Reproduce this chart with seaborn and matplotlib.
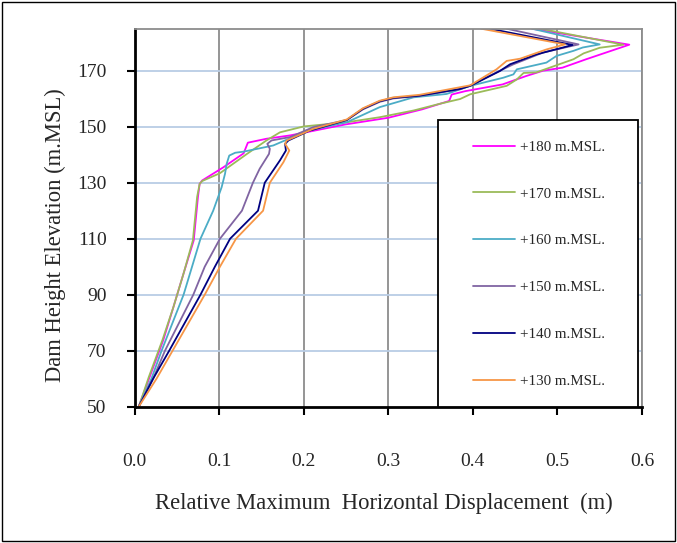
import matplotlib
matplotlib.use("Agg")
import matplotlib.pyplot as plt
import pandas as pd
import seaborn as sns
from matplotlib.patches import Rectangle

# ---- data ----
series_labels = ["+180 m.MSL.", "+170 m.MSL.", "+160 m.MSL.",
                 "+150 m.MSL.", "+140 m.MSL.", "+130 m.MSL."]
series_colors = ["#FF00FF", "#9BBB59", "#4BACC6", "#8064A2", "#000080", "#F79646"]

elev_180 = [50, 60.7, 73.8, 85.6, 97.6, 109.4, 124.9, 129.6, 130.8, 135.5, 140.5, 144.3,
            145.7, 146.9, 148.5, 150.8, 153.2, 156.2, 159.2, 161.5, 162.7, 165.1, 168.1,
            170.0, 171.1, 174.1, 179.3, 185]
disp_180 = [0.005, 0.018, 0.034, 0.046, 0.058, 0.070, 0.075, 0.077, 0.080, 0.105, 0.129, 0.134,
            0.156, 0.184, 0.211, 0.249, 0.300, 0.340, 0.372, 0.375, 0.391, 0.435, 0.463,
            0.483, 0.506, 0.534, 0.585, 0.470]

elev_170 = [50, 60.7, 73.8, 85.6, 97.6, 109.4, 124.9, 129.6, 130.6, 133.4, 140.3, 145.1,
            148.0, 150.1, 151.6, 153.4, 155.8, 158.2, 159.9, 161.6, 164.6, 166.9, 169.2,
            169.4, 174.1, 176.2, 178.2, 179.3, 185]
disp_170 = [0.005, 0.017, 0.033, 0.046, 0.058, 0.069, 0.074, 0.077, 0.080, 0.101, 0.133, 0.156,
            0.172, 0.200, 0.251, 0.290, 0.330, 0.361, 0.385, 0.397, 0.440, 0.452, 0.460,
            0.475, 0.519, 0.531, 0.550, 0.578, 0.480]

elev_160 = [50, 60, 70, 90, 100, 110, 120, 128.4, 133.2, 136.8, 139.7, 140.7, 141.1, 143.3,
            148.5, 151.6, 157.0, 160.5, 161.7, 164.6, 167.5, 168.7, 170.5, 172.9, 175.3,
            177.1, 178.3, 179.4, 185]
disp_160 = [0.005, 0.020, 0.032, 0.058, 0.068, 0.078, 0.093, 0.103, 0.107, 0.109, 0.112, 0.119,
            0.129, 0.164, 0.204, 0.251, 0.290, 0.330, 0.369, 0.397, 0.436, 0.448, 0.452,
            0.487, 0.499, 0.519, 0.530, 0.550, 0.470]

elev_150 = [50, 60, 70, 90, 100, 110, 120, 130, 135, 140.3, 142.1, 143.9, 145.1, 146.3, 149.8,
            152.4, 156.2, 158.9, 160.1, 161.0, 163.4, 164.7, 170.0, 172.3, 176.5, 179.4, 185]
disp_150 = [0.005, 0.022, 0.036, 0.0695, 0.083, 0.101, 0.127, 0.140, 0.148, 0.159, 0.160, 0.157,
            0.162, 0.184, 0.211, 0.251, 0.270, 0.290, 0.306, 0.337, 0.385, 0.397, 0.432,
            0.448, 0.483, 0.525, 0.440]

elev_140 = [50, 60, 70, 90, 100, 110, 120, 130, 138, 141.5, 143.9, 145.1, 148.6, 152.4, 156.4,
            159.1, 160.3, 161.1, 163.5, 164.6, 169.9, 172.3, 175.8, 179.2, 185]
disp_140 = [0.005, 0.022, 0.041, 0.078, 0.095, 0.113, 0.146, 0.154, 0.172, 0.179, 0.178, 0.182,
            0.207, 0.251, 0.270, 0.290, 0.306, 0.337, 0.385, 0.397, 0.432, 0.444, 0.475,
            0.518, 0.420]

elev_130 = [50, 60, 70, 90, 100, 110, 120, 130, 137.3, 141.5, 143.9, 145.1, 149.2, 152.6, 156.6,
            159.3, 160.5, 161.4, 164.8, 170.5, 173.5, 174.3, 177.6, 179.4, 185]
disp_130 = [0.005, 0.026, 0.045, 0.083, 0.101, 0.120, 0.152, 0.160, 0.176, 0.183, 0.178, 0.180,
            0.211, 0.251, 0.270, 0.290, 0.306, 0.337, 0.397, 0.428, 0.440, 0.456, 0.487,
            0.509, 0.410]

x_ticks = [0.0, 0.1, 0.2, 0.3, 0.4, 0.5, 0.6]
x_tick_labels = ["0.0", "0.1", "0.2", "0.3", "0.4", "0.5", "0.6"]
y_ticks = [50, 70, 90, 110, 130, 150, 170]

all_elev = [elev_180, elev_170, elev_160, elev_150, elev_140, elev_130]
all_disp = [disp_180, disp_170, disp_160, disp_150, disp_140, disp_130]

rows = []
for lab, ev, dv in zip(series_labels, all_elev, all_disp):
    for e, d in zip(ev, dv):
        rows.append({"series": lab, "elev": e, "disp": d})
df = pd.DataFrame(rows)

# ---- style ----
sns.set_style("white")
plt.rcParams["font.family"] = ["Liberation Serif", "DejaVu Serif"]

fig = plt.figure(figsize=(6.77, 5.43), dpi=100)
ax = fig.add_axes([0.1987, 0.2510, 0.7496, 0.6961])

sns.lineplot(data=df, x="disp", y="elev", hue="series", hue_order=series_labels,
             palette=dict(zip(series_labels, series_colors)), sort=False,
             estimator=None, linewidth=1.3, ax=ax)

ax.set_xlim(0, 0.6)
ax.set_ylim(50, 185)
ax.set_xticks(x_ticks)
ax.set_xticklabels(x_tick_labels)
ax.set_yticks(y_ticks)

ax.grid(False)
for xv in x_ticks[1:]:
    ax.axvline(xv, color="#8c8c8c", lw=1.3, zorder=0)
for yv in y_ticks[1:]:
    ax.axhline(yv, color="#b9cde5", lw=1.3, zorder=0)

for s in ["left", "bottom"]:
    ax.spines[s].set_color("black")
    ax.spines[s].set_linewidth(2.0)
for s in ["top", "right"]:
    ax.spines[s].set_color("#8c8c8c")
    ax.spines[s].set_linewidth(1.3)

ax.tick_params(axis="both", direction="out", length=6, width=1.5, color="black",
               labelsize=14)
ax.tick_params(axis="x", pad=27, bottom=True)
ax.tick_params(axis="y", pad=14, left=True)

ax.set_xlabel("Relative Maximum  Horizontal Displacement  (m)", fontsize=16.3)
ax.set_ylabel("Dam Height Elevation (m.MSL)", fontsize=16.3)
ax.xaxis.set_label_coords(0.4906, -0.2275)
ax.yaxis.set_label_coords(-0.136, 0.454)

# legend box and legend
ax.add_patch(Rectangle((0.598, 0.0), 0.394, 0.758, transform=ax.transAxes,
                       facecolor="white", edgecolor="black", lw=1.3,
                       zorder=4, clip_on=False))
leg = ax.legend(loc="center", bbox_to_anchor=(0.797, 0.3775), frameon=False,
                fontsize=10.8, labelspacing=2.22, handlelength=2.8,
                handletextpad=0.33, borderpad=0.0)
leg.set_zorder(6)

fig.patches.append(Rectangle((0.003, 0.003), 0.994, 0.994, transform=fig.transFigure,
                             fill=False, edgecolor="black", lw=1.0))

fig.savefig("out.png", dpi=100)
